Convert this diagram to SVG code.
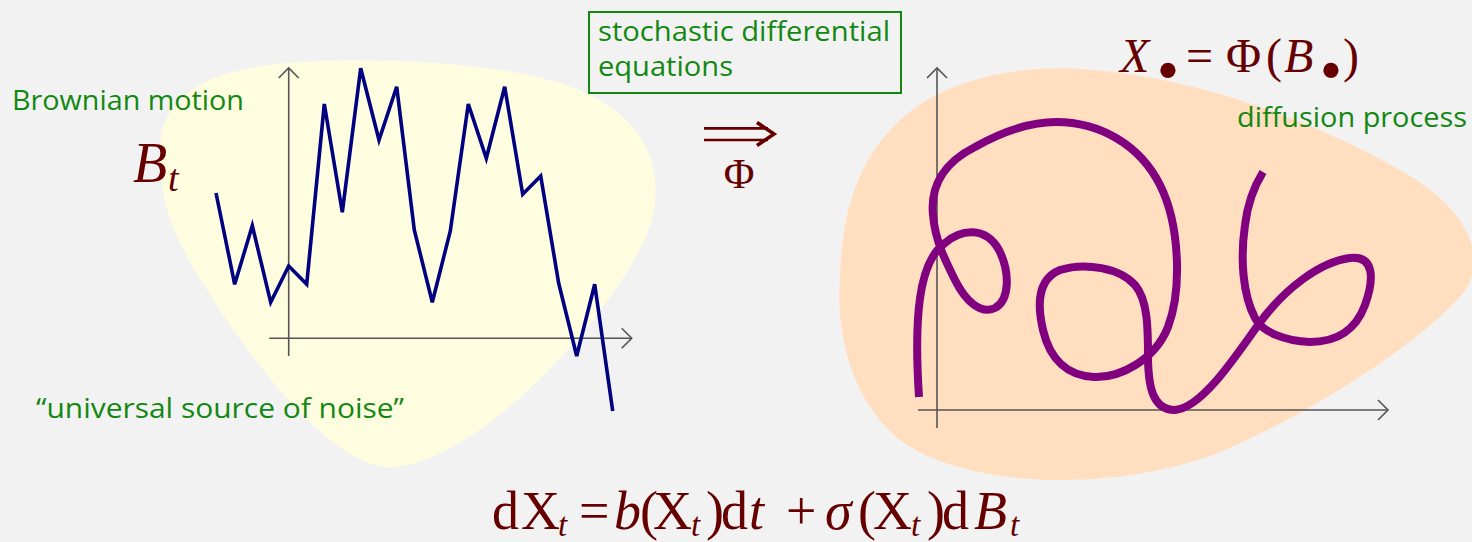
<svg xmlns="http://www.w3.org/2000/svg" width="1472" height="542" viewBox="0 0 1472 542">
<defs>
<style>
.green{font-family:"Open Sans","Liberation Sans",sans-serif;font-size:28px;fill:#128812}
.math{font-family:"Liberation Serif","DejaVu Serif",serif;fill:#660000}
.it{font-style:italic}
.sub{font-style:italic;font-size:33px}
.axis{stroke:#555;stroke-width:1.6;fill:none}
</style>
<marker id="ah" markerUnits="userSpaceOnUse" markerWidth="24" markerHeight="24" refX="0" refY="0" viewBox="-12 -12 24 24" orient="auto" overflow="visible">
<path d="M -10 -10 L 0 0 L -10 10" fill="none" stroke="#555" stroke-width="1.6"/>
</marker>
</defs>
<rect width="1472" height="542" fill="#F2F2F2"/>
<g id="blob-left">
<path d="M 160,150 C 160,100 200,68 300,62 C 420,56 540,68 590,95 C 640,120 662,160 654,210 C 642,285 480,470 388,467 C 330,465 250,360 202,282 C 175,240 158,200 160,150 Z" fill="#FFFDE0"/>
</g>
<g id="blob-right">
<path d="M 1060,68 C 1200,72 1330,130 1400,170 C 1475,212 1486,262 1464,292 C 1420,345 1300,420 1213,455 C 1100,495 960,485 900,440 C 850,400 836,330 840,280 C 842,180 880,72 1060,68 Z" fill="#FFDFC0"/>
</g>
<g id="brownian-plot">
<line class="axis" x1="288.7" y1="356" x2="288.7" y2="68" marker-end="url(#ah)"/>
<line class="axis" x1="269.3" y1="338.3" x2="631.7" y2="338.3" marker-end="url(#ah)"/>
<polyline fill="none" stroke="#000080" stroke-width="3.6" stroke-linejoin="miter" points="216,193 234.7,284.3 252.3,225.7 270.7,302.3 288.7,266 306.7,284.3 324.3,104 342.3,212.3 360.7,68.3 379,140 396.7,86.7 414.3,230 432.3,302.3 450.3,231 468.3,104 486.3,158.3 504.7,86.7 522.7,194.3 540.7,176 558.7,283.3 576.7,356 594.7,284.3 612.7,411"/>
</g>
<g id="diffusion-plot">
<line class="axis" x1="937" y1="428" x2="937" y2="68" marker-end="url(#ah)"/>
<line class="axis" x1="918" y1="410" x2="1388" y2="410" marker-end="url(#ah)"/>
<path fill="none" stroke="#800080" stroke-width="8" stroke-linecap="butt" stroke-linejoin="round" d="M 919,397 C 914,320 918,262 945,243 C 960,230 985,225 999,250 C 1010,272 1010,300 995,308 C 980,315 965,300 955,280 C 945,260 935,240 933,215 C 930,185 945,162 975,147 C 1000,133 1030,122 1056,122 C 1100,122 1140,145 1160,185 C 1180,225 1182,290 1168,327 C 1155,360 1120,378 1094,377 C 1068,376 1050,360 1043,330 C 1036,300 1040,278 1060,270 C 1085,262 1120,268 1135,285 C 1148,300 1148,330 1148,355 C 1148,385 1152,410 1175,410 C 1200,408 1230,365 1258,325 C 1285,288 1320,262 1350,258 C 1375,255 1374,280 1365,305 C 1355,332 1335,342 1310,342 C 1285,341 1262,332 1255,318 C 1243,295 1240,260 1245,225 C 1248,200 1255,185 1263,172"/>
</g>
<g id="label-brownian">
<text class="green" x="12" y="110" textLength="232" lengthAdjust="spacingAndGlyphs">Brownian motion</text>
</g>
<g id="label-Bt">
<text class="math it" x="133" y="182" font-size="56">B</text>
<text class="math it" x="168" y="191" font-size="38">t</text>
</g>
<g id="label-noise">
<text class="green" x="36" y="418" textLength="368" lengthAdjust="spacingAndGlyphs">“universal source of noise”</text>
</g>
<g id="sde-box">
<rect x="589" y="12" width="312" height="81" fill="none" stroke="#128812" stroke-width="2"/>
<text class="green" x="598" y="41" textLength="292" lengthAdjust="spacingAndGlyphs">stochastic differential</text>
<text class="green" x="598" y="76" textLength="135" lengthAdjust="spacingAndGlyphs">equations</text>
</g>
<g id="connectors">
<path d="M 704,128.3 L 768,128.3 M 704,140 L 768,140" stroke="#660000" stroke-width="2.7" fill="none"/>
<path d="M 757,122.5 L 774,134 L 757,145.5" stroke="#660000" stroke-width="3.6" fill="none" stroke-linejoin="miter"/>
<text class="math" x="739" y="188" font-size="42" text-anchor="middle">Φ</text>
</g>
<g id="label-X">
<text class="math it" x="1120" y="72" font-size="48">X</text>
<text class="math" x="1168" y="92" font-size="64" text-anchor="middle">•</text>
<text class="math" x="1186" y="72" font-size="48">=</text>
<text class="math" x="1226" y="72" font-size="48">Φ</text>
<text class="math" x="1266" y="72" font-size="48">(</text>
<text class="math it" x="1284" y="72" font-size="48">B</text>
<text class="math" x="1331" y="92" font-size="64" text-anchor="middle">•</text>
<text class="math" x="1343" y="72" font-size="48">)</text>
</g>
<g id="label-diffusion">
<text class="green" x="1237" y="127" textLength="230" lengthAdjust="spacingAndGlyphs">diffusion process</text>
</g>
<g id="equation">
<text class="math" font-size="54" y="529"><tspan x="492">d</tspan><tspan x="521">X</tspan><tspan x="558" y="536" class="sub">t</tspan><tspan x="579" y="529">=</tspan><tspan x="614" class="it">b</tspan><tspan x="640">(</tspan><tspan x="653">X</tspan><tspan x="691" y="536" class="sub">t</tspan><tspan x="706" y="529">)</tspan><tspan x="721">d</tspan><tspan x="749" class="it">t</tspan><tspan x="786">+</tspan><tspan x="825" class="it">σ</tspan><tspan x="858">(</tspan><tspan x="873">X</tspan><tspan x="911" y="536" class="sub">t</tspan><tspan x="927" y="529">)</tspan><tspan x="942">d</tspan><tspan x="974" class="it">B</tspan><tspan x="1010" y="536" class="sub">t</tspan></text>
</g>
</svg>
